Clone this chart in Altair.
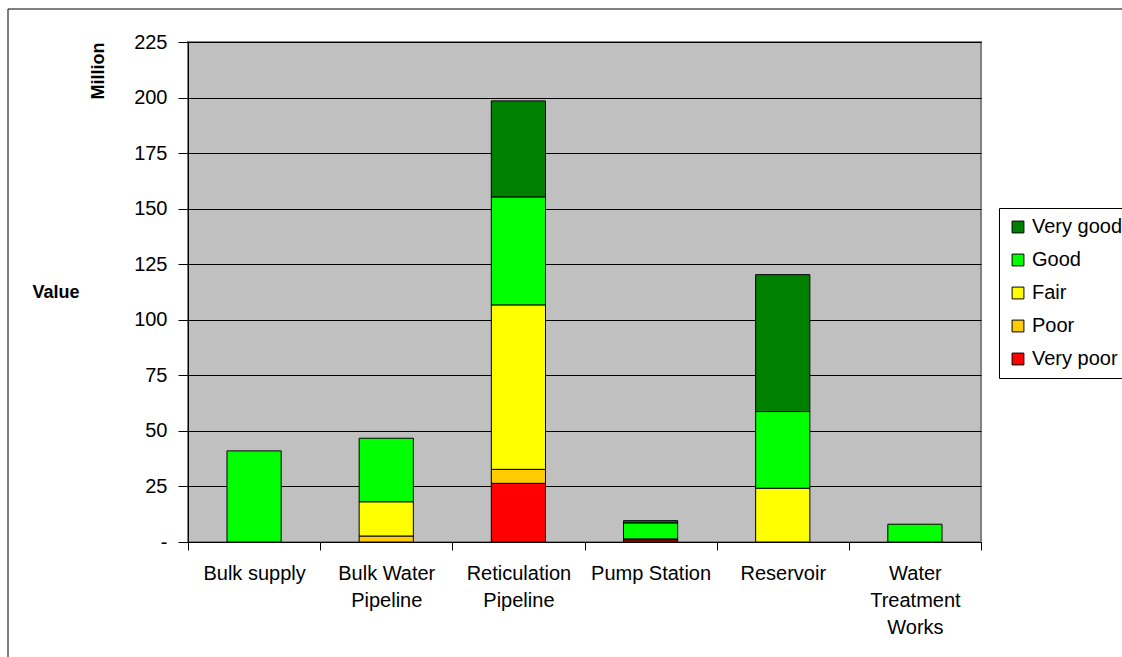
import altair as alt
import pandas as pd

categories = ["Bulk supply", "Bulk Water|Pipeline", "Reticulation|Pipeline",
              "Pump Station", "Reservoir", "Water|Treatment|Works"]
conditions = ["Very poor", "Poor", "Fair", "Good", "Very good"]
very_poor = [0, 0, 26.4, 1.0, 0, 0]
poor = [0, 2.7, 6.3, 0.4, 0, 0]
fair = [0, 15.4, 74.0, 0, 24.2, 0]
good = [41.0, 28.6, 48.6, 7.2, 34.5, 8.0]
very_good = [0, 0, 43.2, 1.0, 61.6, 0]
colors = ["#FF0000", "#FFCC00", "#FFFF00", "#00FF00", "#008000"]
y_ticks = [0, 25, 50, 75, 100, 125, 150, 175, 200, 225]

series = [very_poor, poor, fair, good, very_good]
rows = []
for ci, (cond, vals) in enumerate(zip(conditions, series)):
    for cat, v in zip(categories, vals):
        if v > 0:
            rows.append({"Category": cat, "Condition": cond, "Value": v, "order": ci})
df = pd.DataFrame(rows)

FONT = "Liberation Sans"
W, H = 793, 500

bars = alt.Chart(df).mark_bar(width={"band": 0.41}, stroke="black", strokeWidth=1).encode(
    x=alt.X("Category:N", sort=categories,
            scale=alt.Scale(paddingInner=0, paddingOuter=0),
            axis=alt.Axis(title=None, labelAngle=0, tickBand="extent",
                          labelExpr="split(datum.label, '|')",
                          labelFont=FONT, labelFontSize=20, labelColor="black",
                          labelLineHeight=27, labelPadding=13, tickSize=8,
                          tickColor="black", domainColor="black", grid=False)),
    y=alt.Y("Value:Q", stack="zero",
            scale=alt.Scale(domain=[0, 225], nice=False),
            axis=alt.Axis(title=None, values=y_ticks,
                          labelExpr="datum.value == 0 ? '-' : format(datum.value, 'd')",
                          labelFont=FONT, labelFontSize=20, labelColor="black",
                          labelPadding=11, tickSize=10, tickColor="black",
                          domainColor="black", grid=True, gridColor="black",
                          gridOpacity=1, gridWidth=1)),
    color=alt.Color("Condition:N",
                    scale=alt.Scale(domain=conditions, range=colors),
                    sort=list(reversed(conditions)),
                    legend=alt.Legend(title=None, orient="none", legendX=811, legendY=166,
                                      values=list(reversed(conditions)),
                                      labelFont=FONT, labelFontSize=20, labelColor="black",
                                      symbolType="square", symbolSize=140,
                                      symbolStrokeColor="black", symbolStrokeWidth=1,
                                      rowPadding=13, padding=9,
                                      fillColor="white", strokeColor="black")),
    order=alt.Order("order:Q", sort="ascending"),
)

labels_df = pd.DataFrame({"t": ["Million", "Value"]})
million = alt.Chart(labels_df[labels_df.t == "Million"]).mark_text(
    angle=270, font=FONT, fontSize=18, fontWeight="bold", color="black",
    align="center", baseline="middle").encode(
    x=alt.value(-89), y=alt.value(29), text="t:N")
value = alt.Chart(labels_df[labels_df.t == "Value"]).mark_text(
    font=FONT, fontSize=18, fontWeight="bold", color="black",
    align="center", baseline="middle").encode(
    x=alt.value(-132), y=alt.value(251), text="t:N")

border = alt.Chart(labels_df.head(1)).mark_rect(fill=None, stroke="black", strokeWidth=1).encode(
    x=alt.value(-180), y=alt.value(-33), x2=alt.value(1122 - 188 + 10), y2=alt.value(657 - 42 + 10))

chart = alt.layer(bars, million, value, border).properties(
    width=W, height=H,
    background="white",
    autosize=alt.AutoSizeParams(type="none"),
    padding={"left": 188, "top": 42, "right": 1122 - 188 - W, "bottom": 657 - 42 - H},
).configure_view(fill="#C0C0C0", stroke="#808080", strokeWidth=2)

chart.save("out.html", embed_options={"renderer": "svg", "actions": False})
